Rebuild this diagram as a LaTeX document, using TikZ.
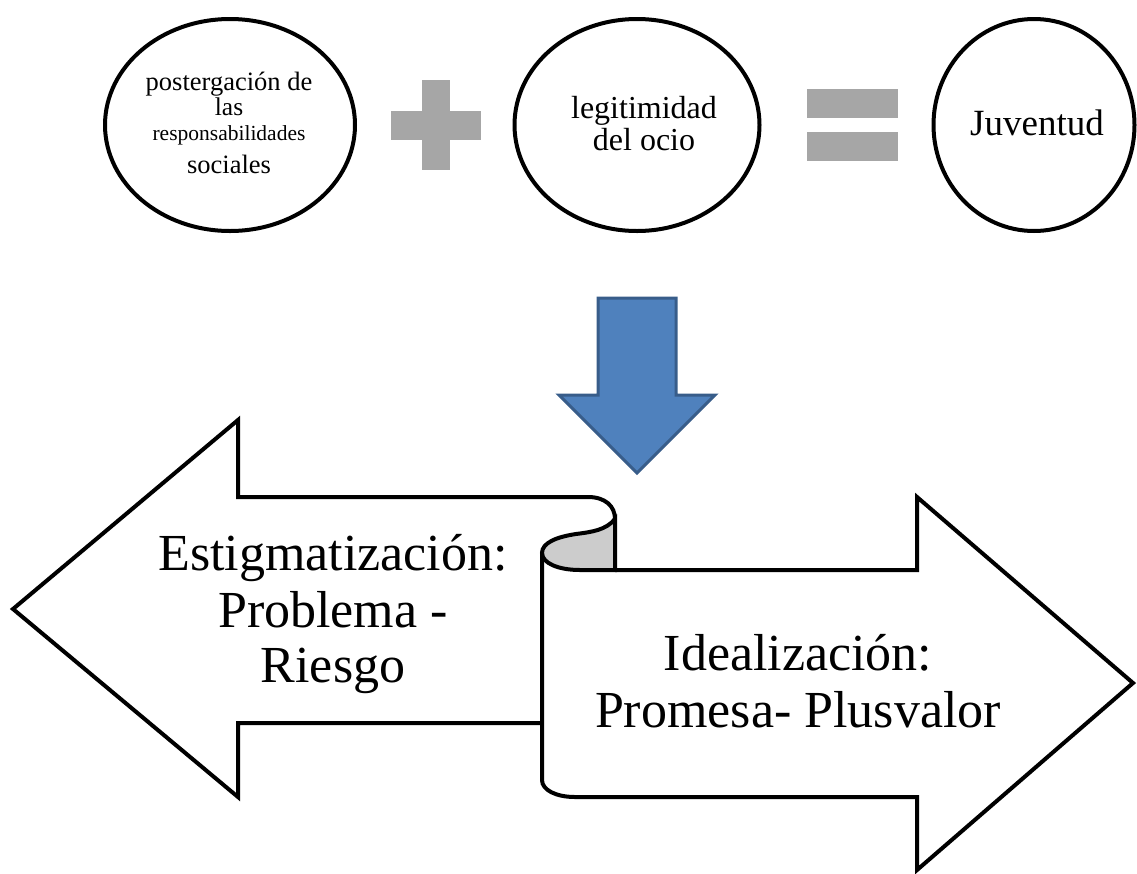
\documentclass[tikz,border=0pt]{standalone}
\usepackage{fontspec}
\setmainfont{Liberation Serif}
\usetikzlibrary{shapes.geometric}
\definecolor{signgrey}{HTML}{A6A6A6}
\definecolor{curlgrey}{HTML}{CCCCCC}
\definecolor{bluefill}{HTML}{4F81BD}
\definecolor{blueedge}{HTML}{385D8A}
\begin{document}
\begin{tikzpicture}[x=1pt,y=-1pt,
  oval/.style={ellipse, draw, line width=4pt, inner sep=0pt},
  sign/.style={fill=signgrey, draw=none},
  outline/.style={draw, line width=4pt, line join=miter},
  lbl/.style={anchor=base, inner sep=0pt},
  big/.style={lbl, font=\fontsize{52}{56}\selectfont},
]
\useasboundingbox (0,0) rectangle (1137,873);

% top row: the three ovals
\node[oval, minimum width=250pt, minimum height=212pt] (c1) at (230,125) {};
\node[oval, minimum width=245pt, minimum height=212pt] (c2) at (637,125) {};
\node[oval, minimum width=201pt, minimum height=212pt] (c3) at (1034,125) {};

\node[lbl, font=\fontsize{26.5}{30}\selectfont] (t1a) at (229,90.5) {postergación de};
\node[lbl, font=\fontsize{25.5}{30}\selectfont] (t1b) at (229,115) {las};
\node[lbl, font=\fontsize{21.5}{24}\selectfont] (t1c) at (229,140) {responsabilidades};
\node[lbl, font=\fontsize{26.5}{30}\selectfont] (t1d) at (229,173) {sociales};

\node[lbl, font=\fontsize{32}{34}\selectfont] (t2a) at (644,118) {legitimidad};
\node[lbl, font=\fontsize{32}{34}\selectfont] (t2b) at (644,150) {del ocio};

\node[lbl, font=\fontsize{37}{40}\selectfont] (t3) at (1037,135) {Juventud};

% plus and equals signs
\fill[sign] (422,80) rectangle (450,170);
\fill[sign] (391,111) rectangle (481,140);
\fill[sign] (807,89) rectangle (898,118);
\fill[sign] (807,132) rectangle (898,161);

% downward block arrow
\draw[fill=bluefill, draw=blueedge, line width=3pt, line join=miter]
  (598,298) -- (676,298) -- (676,395) -- (715,395) -- (637,473)
  -- (559,395) -- (598,395) -- cycle;

% left arrow (scroll front)
\draw[outline]
  (542,723) -- (238,723) -- (238,797) -- (13,609) -- (238,420)
  -- (238,497) -- (588,497) .. controls (605,497) and (615,506) .. (615,519);

% rolled curl of the scroll
\draw[outline, fill=curlgrey]
  (615,519) .. controls (606,530) and (592,532) .. (576,534)
  .. controls (556,537) and (542,543) .. (542,553)
  .. controls (542,563) and (558,570) .. (580,570)
  -- (615,570) -- cycle;

% right arrow (scroll back)
\draw[outline]
  (542,553) -- (542,780) .. controls (542,790) and (556,797) .. (575,797)
  -- (917,797) -- (917,870) -- (1133,683) -- (917,497) -- (917,570) -- (615,570);

% arrow labels
\node[big] (l1) at (333,570) {Estigmatización:};
\node[big] (l2) at (333,627) {Problema -};
\node[big] (l3) at (333,682) {Riesgo};
\node[big] (r1) at (798,670) {Idealización:};
\node[big] (r2) at (798,727) {Promesa- Plusvalor};
\end{tikzpicture}
\end{document}
